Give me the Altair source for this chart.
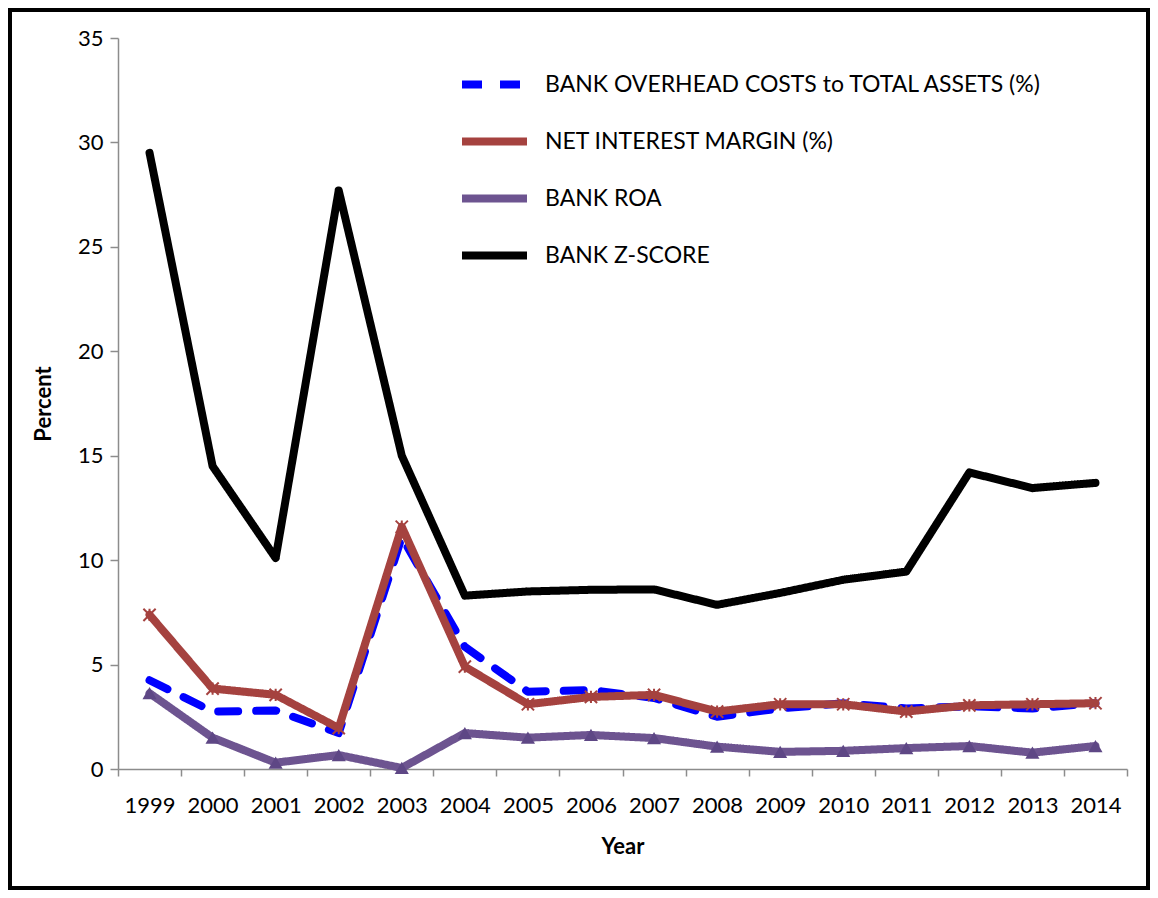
import altair as alt
import pandas as pd

years = [str(y) for y in range(1999, 2015)]
overhead = [4.25, 2.75, 2.8, 1.72, 11.1, 5.85, 3.7, 3.78, 3.4, 2.5, 2.9, 3.15, 2.9, 3.0, 2.9, 3.15]
nim = [7.38, 3.85, 3.55, 1.96, 11.6, 4.9, 3.1, 3.45, 3.55, 2.75, 3.1, 3.1, 2.75, 3.05, 3.1, 3.15]
roa = [3.63, 1.5, 0.3, 0.67, 0.05, 1.72, 1.5, 1.63, 1.48, 1.07, 0.82, 0.87, 1.0, 1.1, 0.78, 1.1]
zscore = [29.5, 14.5, 10.1, 27.7, 15.0, 8.3, 8.5, 8.58, 8.6, 7.86, 8.43, 9.06, 9.45, 14.2, 13.45, 13.7]

names = [
    "BANK OVERHEAD COSTS to TOTAL ASSETS (%)",
    "NET INTEREST MARGIN (%)",
    "BANK ROA",
    "BANK Z-SCORE",
]
colors = ["#0000FF", "#A5423F", "#6D5490", "#000000"]
dashes = [[20, 18], [1, 0], [1, 0], [1, 0]]

rows = []
for name, vals in zip(names, [overhead, nim, roa, zscore]):
    for y, v in zip(years, vals):
        rows.append({"Year": y, "Value": v, "Series": name})
df = pd.DataFrame(rows)

FONT = "Lato"

x_enc = alt.X(
    "Year:N",
    sort=years,
    scale=alt.Scale(paddingInner=0, paddingOuter=0),
    axis=alt.Axis(
        title="Year", labelAngle=0, tickBand="extent", labelFontSize=22,
        labelColor="#000", labelFont=FONT, titleFont=FONT, titleFontSize=22,
        titleFontWeight="bold", titleColor="#000", domainColor="#8C8C8C",
        tickColor="#8C8C8C", domainWidth=1.5, tickWidth=1.5, tickSize=7,
        labelPadding=19, titlePadding=20, grid=False,
    ),
)
y_enc = alt.Y(
    "Value:Q",
    scale=alt.Scale(domain=[0, 35], nice=False),
    axis=alt.Axis(
        title="Percent", values=[0, 5, 10, 15, 20, 25, 30, 35], labelFontSize=22,
        labelColor="#000", labelFont=FONT, titleFont=FONT, titleFontSize=22,
        titleFontWeight="bold", titleColor="#000", domainColor="#8C8C8C",
        tickColor="#8C8C8C", domainWidth=1.5, tickWidth=1.5, tickSize=8,
        labelPadding=7, titlePadding=22, grid=False,
    ),
)

lines = alt.Chart(df).mark_line(strokeWidth=8, strokeCap="round", strokeJoin="round").encode(
    x=x_enc,
    y=y_enc,
    color=alt.Color(
        "Series:N", sort=names,
        scale=alt.Scale(domain=names, range=colors),
        legend=alt.Legend(
            title=None, orient="none", legendX=340, legendY=10,
            symbolType="stroke", symbolStrokeWidth=8, symbolSize=4225,
            labelFontSize=23, labelFont=FONT, labelColor="#000", labelLimit=0,
            rowPadding=4, labelOffset=14, symbolOffset=0,
        ),
    ),
    strokeDash=alt.StrokeDash(
        "Series:N", sort=names,
        scale=alt.Scale(domain=names, range=dashes),
        legend=None,
    ),
    detail="Series:N",
)

tri = alt.Chart(df).transform_filter(alt.datum.Series == "BANK ROA").mark_point(
    shape="triangle-up", filled=True, size=200, color="#5E4785", opacity=1
).encode(x=x_enc, y=y_enc)

star = alt.Chart(df).transform_filter(alt.datum.Series == "NET INTEREST MARGIN (%)").mark_point(
    shape="M-1,-1L1,1M-1,1L1,-1M0,-1L0,1", filled=False, size=150,
    color="#A5423F", strokeWidth=2, opacity=1
).encode(x=x_enc, y=y_enc)

frame = alt.Chart(pd.DataFrame({"k": [0]})).mark_rect(
    fill=None, stroke="#000", strokeWidth=4
).encode(
    x=alt.value(-108), x2=alt.value(1030), y=alt.value(-28), y2=alt.value(850)
)

chart = alt.layer(lines, star, tri, frame).properties(
    width=1009, height=731,
    autosize=alt.AutoSizeParams(type="none"),
    padding={"left": 110, "top": 30, "right": 23, "bottom": 121},
).configure(background="white").configure_view(strokeWidth=0)

chart.save("out.html", embed_options={"renderer": "svg", "actions": False})
